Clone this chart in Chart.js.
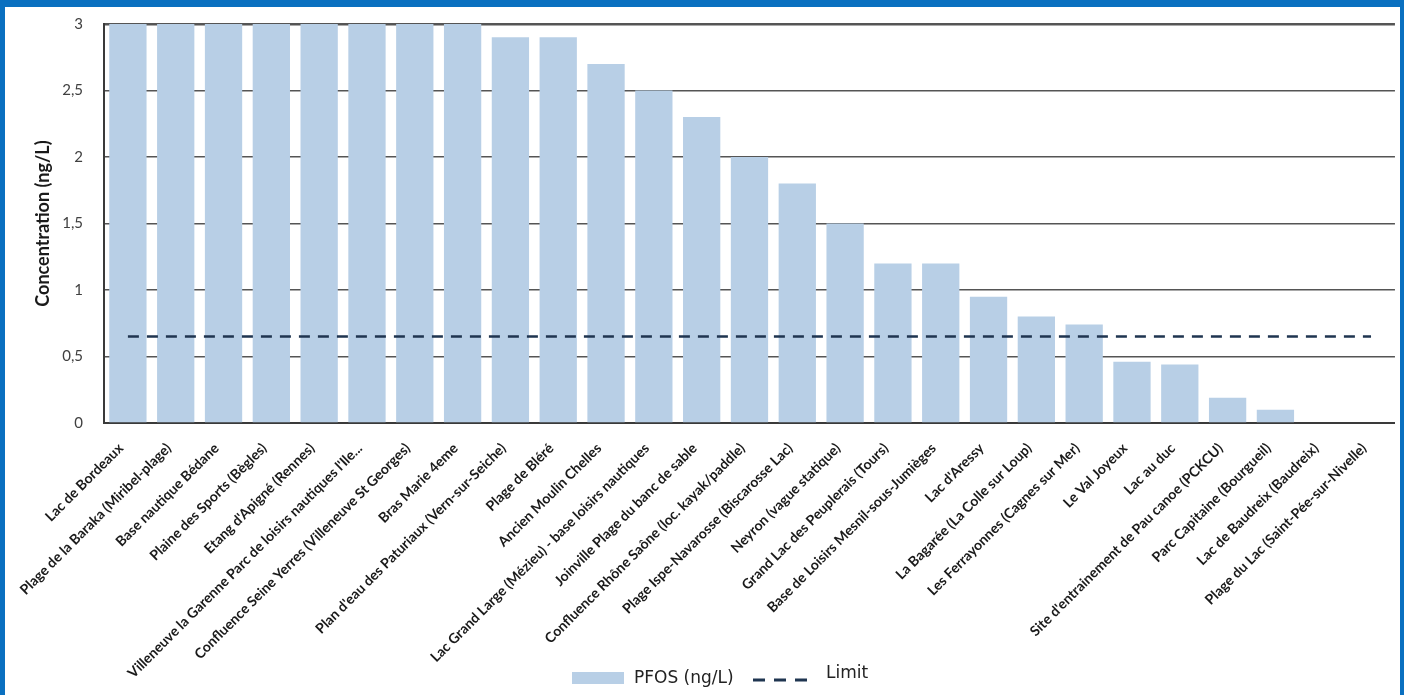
<!DOCTYPE html>
<html lang="fr">
<head>
<meta charset="utf-8">
<title>PFOS (ng/L)</title>
<script src="https://cdn.jsdelivr.net/npm/chart.js@4.4.1/dist/chart.umd.min.js"></script>
<style>
  html, body { margin: 0; padding: 0; }
  body { width: 1404px; height: 695px; background: #0A70C0; position: relative; overflow: hidden; }
  #frame { position: absolute; left: 5px; top: 7px; width: 1395px; height: 688px; background: #ffffff; }
  canvas { display: block; }
  .legend-item { position: absolute; font-family: 'DejaVu Sans', sans-serif; font-size: 17px; line-height: 20px; color: #222222; white-space: nowrap; }
  .legend-swatch { position: absolute; }
</style>
</head>
<body>
<div id="frame"><canvas id="chart" width="1395" height="688"></canvas></div>
<div id="legend"></div>
<script>
// Bathing sites, sorted by measured PFOS concentration
const sites = [
  "Lac de Bordeaux",
  "Plage de la Baraka (Miribel-plage)",
  "Base nautique Bédane",
  "Plaine des Sports (Bègles)",
  "Etang d'Apigné (Rennes)",
  "Villeneuve la Garenne Parc de loisirs nautiques l'Ile...",
  "Confluence Seine Yerres (Villeneuve St Georges)",
  "Bras Marie 4eme",
  "Plan d'eau des Paturiaux (Vern-sur-Seiche)",
  "Plage de Bléré",
  "Ancien Moulin Chelles",
  "Lac Grand Large (Mézieu) - base loisirs nautiques",
  "Joinville Plage du banc de sable",
  "Confluence Rhône Saône (loc. kayak/paddle)",
  "Plage Ispe-Navarosse (Biscarosse Lac)",
  "Neyron (vague statique)",
  "Grand Lac des Peuplerais (Tours)",
  "Base de Loisirs Mesnil-sous-Jumièges",
  "Lac d'Aressy",
  "La Bagarée (La Colle sur Loup)",
  "Les Ferrayonnes (Cagnes sur Mer)",
  "Le Val Joyeux",
  "Lac au duc",
  "Site d'entrainement de Pau canoe (PCKCU)",
  "Parc Capitaine (Bourgueil)",
  "Lac de Baudreix (Baudreix)",
  "Plage du Lac (Saint-Pée-sur-Nivelle)"
];

// PFOS concentration per site (ng/L)
const pfosValues = [
  3, 3, 3, 3, 3, 3, 3, 3,
  2.9, 2.9, 2.7, 2.5, 2.3, 2.0, 1.8, 1.5,
  1.2, 1.2, 0.95, 0.8, 0.74, 0.46, 0.44, 0.19,
  0.1, 0, 0
];

// Regulatory limit (ng/L)
const limitValue = 0.65;

// Y axis tick labels (French decimal comma)
const yTickValues = [0, 0.5, 1, 1.5, 2, 2.5, 3];
const yTickLabels = ["0", "0,5", "1", "1,5", "2", "2,5", "3"];

const legendNames = ["PFOS (ng/L)", "Limit"];

const barColor = "#b8cfe6";
const limitColor = "#1f3550";
const limitDash = [11, 8];

const limitSeries = sites.map(() => limitValue);

const ctx = document.getElementById("chart").getContext("2d");

new Chart(ctx, {
  data: {
    labels: sites,
    datasets: [
      {
        type: "line",
        label: legendNames[1],
        data: limitSeries,
        borderColor: limitColor,
        backgroundColor: limitColor,
        borderWidth: 2.5,
        borderDash: limitDash,
        pointRadius: 0,
        fill: false,
        order: 0
      },
      {
        type: "bar",
        label: legendNames[0],
        data: pfosValues,
        backgroundColor: barColor,
        borderWidth: 0,
        barPercentage: 0.78,
        categoryPercentage: 1.0,
        order: 1
      }
    ]
  },
  options: {
    responsive: false,
    animation: false,
    layout: { padding: { top: 17, right: 4, left: 0, bottom: 0 } },
    plugins: {
      tooltip: { enabled: false },
      legend: { display: false }
    },
    scales: {
      x: {
        offset: true,
        grid: { display: false, drawTicks: false },
        border: { display: true, color: "#3a3a3a", width: 2 },
        ticks: {
          autoSkip: false,
          minRotation: 45,
          maxRotation: 45,
          padding: 17,
          labelOffset: -7,
          color: "#1a1a1a",
          font: { family: "Lato, sans-serif", size: 14, weight: "bold" }
        },
        afterFit: (scale) => { scale.height = 272; }
      },
      y: {
        min: 0,
        max: 3,
        afterBuildTicks: (scale) => {
          scale.ticks = yTickValues.map((v) => ({ value: v }));
        },
        grid: {
          drawTicks: true,
          tickLength: 19,
          tickColor: "rgba(0,0,0,0)",
          color: "#555555",
          lineWidth: (c) => (c.tick && c.tick.value === 3 ? 2.4 : 1.5)
        },
        border: { display: true, color: "#3a3a3a", width: 2 },
        ticks: {
          padding: 2,
          color: "#404040",
          font: { family: "Lato, sans-serif", size: 15 },
          callback: (value) => {
            const i = yTickValues.indexOf(value);
            return i >= 0 ? yTickLabels[i] : "";
          }
        },
        title: {
          display: true,
          text: "Concentration (ng/L)",
          color: "#1a1a1a",
          padding: { top: 27, bottom: 0 },
          font: { family: "Lato, sans-serif", size: 18, weight: "bold" }
        },
        afterFit: (scale) => { scale.width = 99; }
      }
    }
  }
});

// Legend row under the category labels
(function buildLegend() {
  const legend = document.getElementById("legend");

  const swatch = document.createElement("div");
  swatch.className = "legend-swatch";
  Object.assign(swatch.style, { left: "572px", top: "672px", width: "52px", height: "12px", background: barColor });
  legend.appendChild(swatch);

  const barText = document.createElement("div");
  barText.className = "legend-item";
  Object.assign(barText.style, { left: "634px", top: "667px" });
  barText.textContent = legendNames[0];
  legend.appendChild(barText);

  const svgNS = "http://www.w3.org/2000/svg";
  const svg = document.createElementNS(svgNS, "svg");
  svg.setAttribute("width", "56");
  svg.setAttribute("height", "6");
  svg.classList.add("legend-swatch");
  Object.assign(svg.style, { left: "753px", top: "677px" });
  const line = document.createElementNS(svgNS, "line");
  line.setAttribute("x1", "0");
  line.setAttribute("x2", "56");
  line.setAttribute("y1", "3");
  line.setAttribute("y2", "3");
  line.setAttribute("stroke", limitColor);
  line.setAttribute("stroke-width", "3");
  line.setAttribute("stroke-dasharray", "12 9");
  svg.appendChild(line);
  legend.appendChild(svg);

  const limitText = document.createElement("div");
  limitText.className = "legend-item";
  Object.assign(limitText.style, { left: "826px", top: "662px" });
  limitText.textContent = legendNames[1];
  legend.appendChild(limitText);
})();
</script>
</body>
</html>
